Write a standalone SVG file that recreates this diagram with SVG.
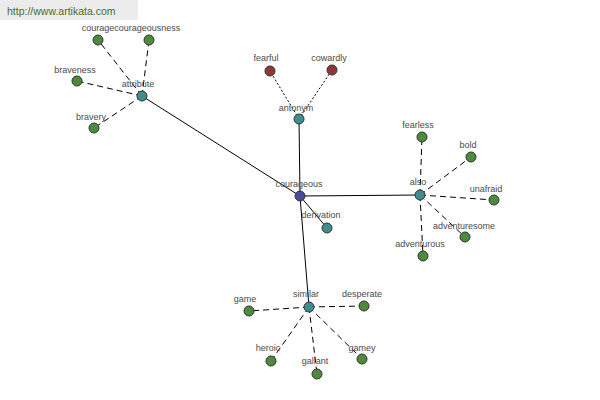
<svg xmlns="http://www.w3.org/2000/svg" width="600" height="400" viewBox="0 0 600 400">
<style>
text{font-family:"Liberation Sans",Arial,sans-serif;font-size:9px;fill:#4a4a4a;text-anchor:middle}
.n{stroke:#333;stroke-width:1}
.g{fill:#4d8a3e}.t{fill:#3e8d8f}.r{fill:#8e3838}.c{fill:#4a4b9c}
.s{stroke:#000;stroke-width:1;fill:none}
.d{stroke:#000;stroke-width:1;stroke-dasharray:6,4;fill:none}
.o{stroke:#000;stroke-width:1;stroke-dasharray:2,2;fill:none}
</style>
<rect width="600" height="400" fill="#fff"/>
<rect x="0" y="0" width="138" height="20" fill="#ececec"/>
<text x="7" y="15" style="text-anchor:start;font-size:10.5px;fill:#4f6b2e">http://www.artikata.com</text>
<g id="connectors">
<line class="s" x1="300" y1="196" x2="142" y2="96"/>
<line class="s" x1="300" y1="196" x2="299" y2="119"/>
<line class="s" x1="300" y1="196" x2="420" y2="195"/>
<line class="s" x1="300" y1="196" x2="327" y2="228"/>
<line class="s" x1="300" y1="196" x2="309" y2="307"/>
<line class="d" x1="142" y1="96" x2="98" y2="40"/>
<line class="d" x1="142" y1="96" x2="149" y2="40"/>
<line class="d" x1="142" y1="96" x2="77" y2="81"/>
<line class="d" x1="142" y1="96" x2="94" y2="128"/>
<line class="o" x1="299" y1="119" x2="270" y2="71"/>
<line class="o" x1="299" y1="119" x2="332" y2="70"/>
<line class="d" x1="420" y1="195" x2="422" y2="137"/>
<line class="d" x1="420" y1="195" x2="471" y2="157"/>
<line class="d" x1="420" y1="195" x2="494" y2="200"/>
<line class="d" x1="420" y1="195" x2="465" y2="237"/>
<line class="d" x1="420" y1="195" x2="423" y2="256"/>
<line class="d" x1="309" y1="307" x2="249" y2="311"/>
<line class="d" x1="309" y1="307" x2="364" y2="306"/>
<line class="d" x1="309" y1="307" x2="271" y2="361"/>
<line class="d" x1="309" y1="307" x2="317" y2="374"/>
<line class="d" x1="309" y1="307" x2="362" y2="359"/>
</g>
<g id="courageous"><circle class="n c" cx="300" cy="196" r="5"/><text x="299" y="187">courageous</text></g>
<g id="attribute"><circle class="n t" cx="142" cy="96" r="5"/><text x="138" y="87">attribute</text></g>
<g id="antonym"><circle class="n t" cx="299" cy="119" r="5"/><text x="296" y="111">antonym</text></g>
<g id="also"><circle class="n t" cx="420" cy="195" r="5"/><text x="418" y="185">also</text></g>
<g id="derivation"><circle class="n t" cx="327" cy="228" r="5"/><text x="321" y="218">derivation</text></g>
<g id="similar"><circle class="n t" cx="309" cy="307" r="5"/><text x="306" y="297">similar</text></g>
<g id="courage"><circle class="n g" cx="98" cy="40" r="5"/></g>
<g id="courageousness"><circle class="n g" cx="149" cy="40" r="5"/><text x="131" y="31">couragecourageousness</text></g>
<g id="braveness"><circle class="n g" cx="77" cy="81" r="5"/><text x="75" y="73">braveness</text></g>
<g id="bravery"><circle class="n g" cx="94" cy="128" r="5"/><text x="91" y="120">bravery</text></g>
<g id="fearful"><circle class="n r" cx="270" cy="71" r="5"/><text x="266" y="61">fearful</text></g>
<g id="cowardly"><circle class="n r" cx="332" cy="70" r="5"/><text x="329" y="61">cowardly</text></g>
<g id="fearless"><circle class="n g" cx="422" cy="137" r="5"/><text x="418" y="128">fearless</text></g>
<g id="bold"><circle class="n g" cx="471" cy="157" r="5"/><text x="468" y="148">bold</text></g>
<g id="unafraid"><circle class="n g" cx="494" cy="200" r="5"/><text x="486" y="192">unafraid</text></g>
<g id="adventuresome"><circle class="n g" cx="465" cy="237" r="5"/><text x="464" y="229">adventuresome</text></g>
<g id="adventurous"><circle class="n g" cx="423" cy="256" r="5"/><text x="420" y="247">adventurous</text></g>
<g id="game"><circle class="n g" cx="249" cy="311" r="5"/><text x="245" y="302">game</text></g>
<g id="desperate"><circle class="n g" cx="364" cy="306" r="5"/><text x="362" y="297">desperate</text></g>
<g id="heroic"><circle class="n g" cx="271" cy="361" r="5"/><text x="268" y="351">heroic</text></g>
<g id="gallant"><circle class="n g" cx="317" cy="374" r="5"/><text x="315" y="364">gallant</text></g>
<g id="gamey"><circle class="n g" cx="362" cy="359" r="5"/><text x="362" y="351">gamey</text></g>
</svg>
